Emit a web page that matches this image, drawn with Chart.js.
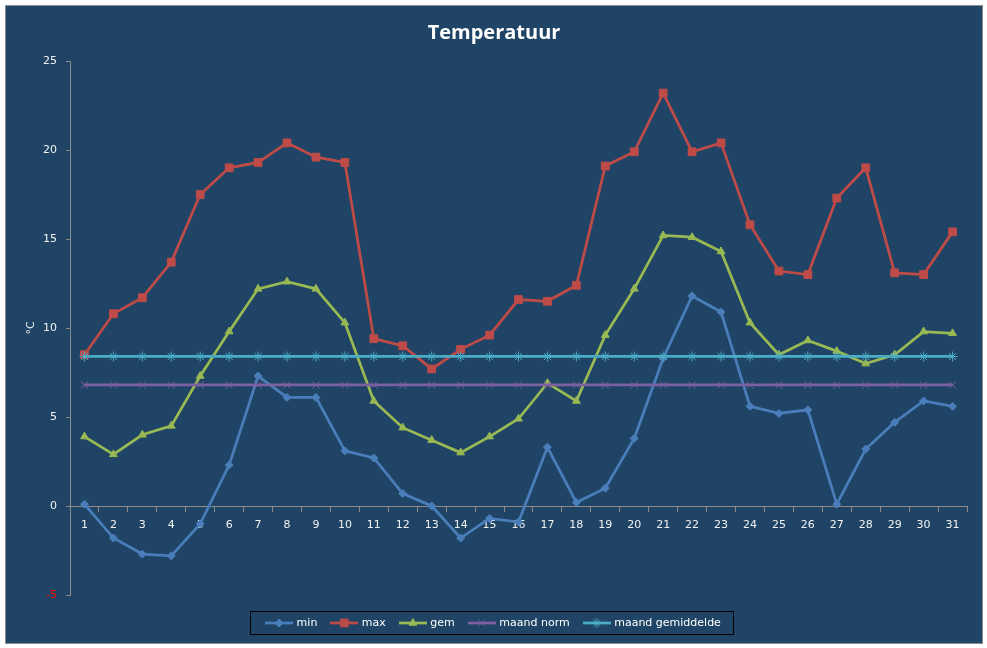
<!DOCTYPE html>
<html>
<head>
<meta charset="utf-8">
<title>Temperatuur</title>
<script src="https://cdn.jsdelivr.net/npm/chart.js@4.4.1/dist/chart.umd.min.js"></script>
<style>
  html, body { margin: 0; padding: 0; background: #ffffff; }
  #kader {
    position: absolute; left: 5px; top: 5px;
    width: 976px; height: 637px;
    border: 1px solid #8e8e8e;
    background: #1f4465;
  }
  #kader canvas { display: block; }
</style>
</head>
<body>
<div id="kader"><canvas id="tempChart"></canvas></div>
<script>
// Dagen van de maand
const dagen = ['1', '2', '3', '4', '5', '6', '7', '8', '9', '10', '11', '12', '13', '14', '15', '16',
               '17', '18', '19', '20', '21', '22', '23', '24', '25', '26', '27', '28', '29', '30', '31'];

// Temperaturen in °C
const minTemp = [0.1, -1.8, -2.7, -2.8, -1.0, 2.3, 7.3, 6.1, 6.1, 3.1, 2.7, 0.7, 0.0, -1.8, -0.7, -0.9,
                 3.3, 0.2, 1.0, 3.8, 8.3, 11.8, 10.9, 5.6, 5.2, 5.4, 0.1, 3.2, 4.7, 5.9, 5.6];
const maxTemp = [8.5, 10.8, 11.7, 13.7, 17.5, 19.0, 19.3, 20.4, 19.6, 19.3, 9.4, 9.0, 7.7, 8.8, 9.6, 11.6,
                 11.5, 12.4, 19.1, 19.9, 23.2, 19.9, 20.4, 15.8, 13.2, 13.0, 17.3, 19.0, 13.1, 13.0, 15.4];
const gemTemp = [3.9, 2.9, 4.0, 4.5, 7.3, 9.8, 12.2, 12.6, 12.2, 10.3, 5.9, 4.4, 3.7, 3.0, 3.9, 4.9,
                 6.9, 5.9, 9.6, 12.2, 15.2, 15.1, 14.3, 10.3, 8.5, 9.3, 8.7, 8.0, 8.5, 9.8, 9.7];
const maandNorm = [6.8, 6.8, 6.8, 6.8, 6.8, 6.8, 6.8, 6.8, 6.8, 6.8, 6.8, 6.8, 6.8, 6.8, 6.8, 6.8,
                   6.8, 6.8, 6.8, 6.8, 6.8, 6.8, 6.8, 6.8, 6.8, 6.8, 6.8, 6.8, 6.8, 6.8, 6.8];
const maandGemiddelde = [8.4, 8.4, 8.4, 8.4, 8.4, 8.4, 8.4, 8.4, 8.4, 8.4, 8.4, 8.4, 8.4, 8.4, 8.4, 8.4,
                         8.4, 8.4, 8.4, 8.4, 8.4, 8.4, 8.4, 8.4, 8.4, 8.4, 8.4, 8.4, 8.4, 8.4, 8.4];

// Y-as labels
const yTicks = [-5, 0, 5, 10, 15, 20, 25];

const tekstKleur = '#f2f2f2';
const asKleur = '#8a8a8a';
const lettertype = { family: 'DejaVu Sans', size: 11 };

// Excel-achtige reeksen: lijn + markering
const reeksen = [
    { label: 'min',              data: minTemp,         kleur: '#4a7ebb', stijl: 'rectRot',  straal: 4,   orde: 5 },
    { label: 'max',              data: maxTemp,         kleur: '#be4b48', stijl: 'rect',     straal: 5.5, orde: 4 },
    { label: 'gem',              data: gemTemp,         kleur: '#98b954', stijl: 'triangle', straal: 4.5, orde: 3 },
    { label: 'maand norm',       data: maandNorm,       kleur: '#7d60a0', stijl: 'crossRot', straal: 5,   orde: 2 },
    { label: 'maand gemiddelde', data: maandGemiddelde, kleur: '#4bacc6', stijl: 'star',     straal: 5,   orde: 1 }
];

// Klein plaatje (lijn met markering) voor de legenda
function maakStaaltje(kleur, stijl, straal) {
    const c = document.createElement('canvas');
    c.width = 28; c.height = 14;
    const g = c.getContext('2d');
    g.strokeStyle = kleur;
    g.fillStyle = kleur;
    g.lineWidth = 2.75;
    g.beginPath(); g.moveTo(0, 7); g.lineTo(28, 7); g.stroke();
    g.lineWidth = 1;
    Chart.helpers.drawPoint(g, { pointStyle: stijl, radius: straal, rotation: 0, borderWidth: 1 }, 14, 7);
    return c;
}
const staaltjes = reeksen.map(r => maakStaaltje(r.kleur, r.stijl, r.straal));

// Zwart kader rond de legenda
const legendaKader = {
    id: 'legendaKader',
    afterDraw(chart) {
        const boxes = chart.legend && chart.legend.legendHitBoxes;
        if (!boxes || !boxes.length) return;
        const eerste = boxes[0], laatste = boxes[boxes.length - 1];
        const ctx = chart.ctx;
        const x1 = Math.round(eerste.left - 17) + 0.5;
        const x2 = Math.round(laatste.left + laatste.width + 12) + 0.5;
        const yc = eerste.top + eerste.height / 2;
        ctx.save();
        ctx.strokeStyle = '#000000';
        ctx.lineWidth = 1;
        ctx.strokeRect(x1, Math.round(yc - 12) + 0.5, x2 - x1, 23);
        ctx.restore();
    }
};

new Chart(document.getElementById('tempChart'), {
    type: 'line',
    data: {
        labels: dagen,
        datasets: reeksen.map(r => ({
            label: r.label,
            data: r.data,
            borderColor: r.kleur,
            backgroundColor: r.kleur,
            borderWidth: 2.75,
            pointStyle: r.stijl,
            pointRadius: r.straal,
            pointBorderWidth: 1,
            pointBorderColor: r.kleur,
            pointBackgroundColor: r.kleur,
            tension: 0,
            fill: false,
            order: r.orde // latere reeksen bovenop, zoals in Excel
        }))
    },
    options: {
        responsive: true,
        maintainAspectRatio: false,
        animation: false,
        layout: { padding: { left: 15, right: 15, top: 0, bottom: 4.5 } },
        scales: {
            x: {
                position: { y: 0 },
                offset: true,
                ticks: { color: tekstKleur, font: lettertype, padding: 8, maxRotation: 0, autoSkip: false },
                grid: { offset: true, drawOnChartArea: false, tickLength: 5, color: asKleur },
                border: { color: asKleur }
            },
            y: {
                min: -5,
                max: 25,
                afterBuildTicks: s => { s.ticks = yTicks.map(v => ({ value: v })); },
                afterFit: s => { s.width = 49; },
                ticks: {
                    color: c => (c.tick && c.tick.value < 0) ? '#ff0000' : tekstKleur,
                    font: lettertype,
                    padding: 9
                },
                grid: { drawOnChartArea: false, tickLength: 4, color: asKleur },
                border: { color: asKleur },
                title: {
                    display: true,
                    text: '°C',
                    color: tekstKleur,
                    font: lettertype,
                    padding: { top: 4, bottom: 0 }
                }
            }
        },
        plugins: {
            title: {
                display: true,
                text: 'Temperatuur',
                color: '#ffffff',
                font: { family: 'Open Sans', size: 20, weight: 'bold' },
                padding: { top: 15, bottom: 16 }
            },
            legend: {
                position: 'bottom',
                title: { display: true, text: '', font: { size: 7.5, lineHeight: 1 }, padding: 0 },
                labels: {
                    usePointStyle: true,
                    pointStyleWidth: 24,
                    padding: 15,
                    color: '#ffffff',
                    font: lettertype,
                    generateLabels: chart => chart.data.datasets.map((ds, i) => ({
                        text: ds.label,
                        datasetIndex: i,
                        pointStyle: staaltjes[i],
                        fontColor: '#ffffff',
                        fillStyle: 'transparent',
                        strokeStyle: 'transparent',
                        lineWidth: 0,
                        hidden: false
                    }))
                }
            },
            tooltip: { enabled: false }
        }
    },
    plugins: [legendaKader]
});
</script>
</body>
</html>
